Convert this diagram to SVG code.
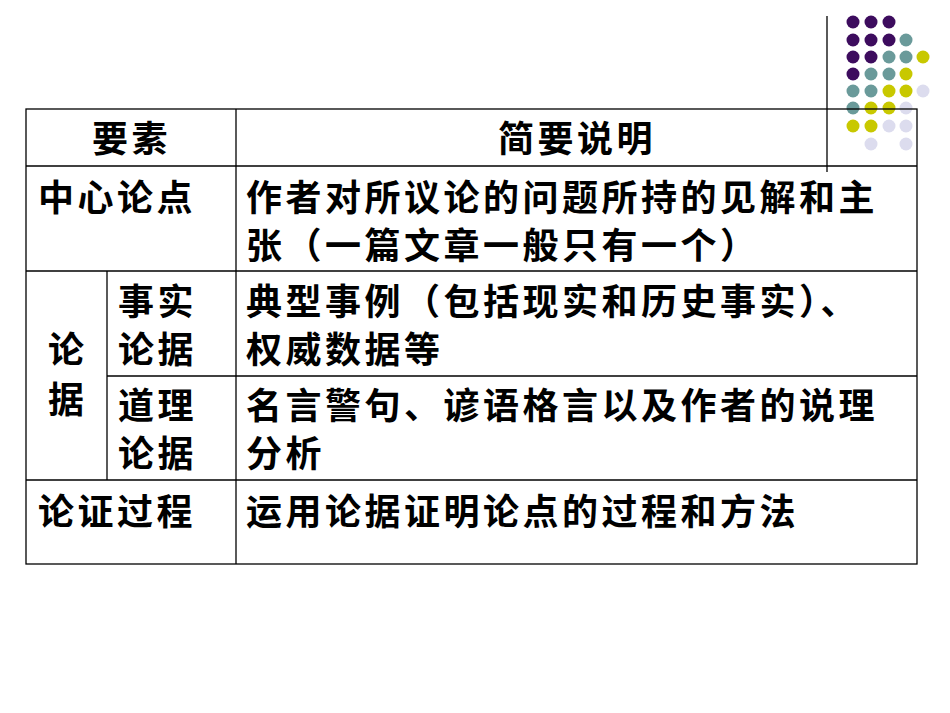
<svg xmlns="http://www.w3.org/2000/svg" width="950" height="713" viewBox="0 0 950 713">
<style>
text{font-family:"Noto Sans CJK SC","Liberation Sans",sans-serif;font-size:36px;letter-spacing:3.5px;font-weight:bold;fill:#000}
.l{stroke:#000;stroke-width:1.3;fill:none}
.p{fill:#3D0C5E}.t{fill:#6A9A9A}.y{fill:#C8C800}.v{fill:#DCDCEE}
</style>
<rect width="950" height="713" fill="#fff"/>
<g id="dots">
<circle class="p" cx="853" cy="22" r="6.5"/><circle class="p" cx="871" cy="22" r="6.5"/><circle class="p" cx="889" cy="22" r="6.5"/>
<circle class="p" cx="853" cy="40" r="6.5"/><circle class="p" cx="871" cy="40" r="6.5"/><circle class="p" cx="889" cy="40" r="6.5"/><circle class="t" cx="906" cy="40" r="6.5"/>
<circle class="p" cx="853" cy="57" r="6.5"/><circle class="p" cx="871" cy="57" r="6.5"/><circle class="t" cx="889" cy="57" r="6.5"/><circle class="t" cx="906" cy="57" r="6.5"/><circle class="y" cx="923" cy="57" r="6.5"/>
<circle class="p" cx="853" cy="74" r="6.5"/><circle class="t" cx="871" cy="74" r="6.5"/><circle class="t" cx="889" cy="74" r="6.5"/><circle class="y" cx="906" cy="74" r="6.5"/>
<circle class="t" cx="853" cy="91" r="6.5"/><circle class="t" cx="871" cy="91" r="6.5"/><circle class="y" cx="889" cy="91" r="6.5"/><circle class="y" cx="906" cy="91" r="6.5"/><circle class="v" cx="923" cy="91" r="6.5"/>
<circle class="t" cx="853" cy="108" r="6.5"/><circle class="y" cx="871" cy="108" r="6.5"/><circle class="y" cx="889" cy="108" r="6.5"/><circle class="v" cx="906" cy="108" r="6.5"/>
<circle class="y" cx="853" cy="126" r="6.5"/><circle class="y" cx="871" cy="126" r="6.5"/><circle class="v" cx="889" cy="126" r="6.5"/><circle class="v" cx="906" cy="126" r="6.5"/>
<circle class="v" cx="871" cy="144" r="6.5"/><circle class="v" cx="906" cy="144" r="6.5"/>
</g>
<g id="lines" class="l">
<line x1="827" y1="16" x2="827" y2="172"/>
<rect x="26" y="109" width="891" height="455"/>
<line x1="26" y1="166" x2="917" y2="166"/>
<line x1="26" y1="271" x2="917" y2="271"/>
<line x1="107" y1="376" x2="917" y2="376"/>
<line x1="26" y1="480" x2="917" y2="480"/>
<line x1="236" y1="109" x2="236" y2="564"/>
<line x1="107" y1="271" x2="107" y2="480"/>
</g>
<g id="texts">
<text x="92" y="152">要素</text>
<text x="498" y="152">简要说明</text>
<text x="38" y="211">中心论点</text>
<text x="246" y="211">作者对所议论的问题所持的见解和主</text>
<text x="246" y="259">张（一篇文章一般只有一个）</text>
<text x="48" y="363">论</text>
<text x="48" y="413">据</text>
<text x="118" y="315">事实</text>
<text x="118" y="363">论据</text>
<text x="246" y="315">典型事例（包括现实和历史事实）、</text>
<text x="246" y="363">权威数据等</text>
<text x="118" y="419">道理</text>
<text x="118" y="467">论据</text>
<text x="246" y="419">名言警句、谚语格言以及作者的说理</text>
<text x="246" y="467">分析</text>
<text x="38" y="525">论证过程</text>
<text x="246" y="525">运用论据证明论点的过程和方法</text>
</g>
</svg>
